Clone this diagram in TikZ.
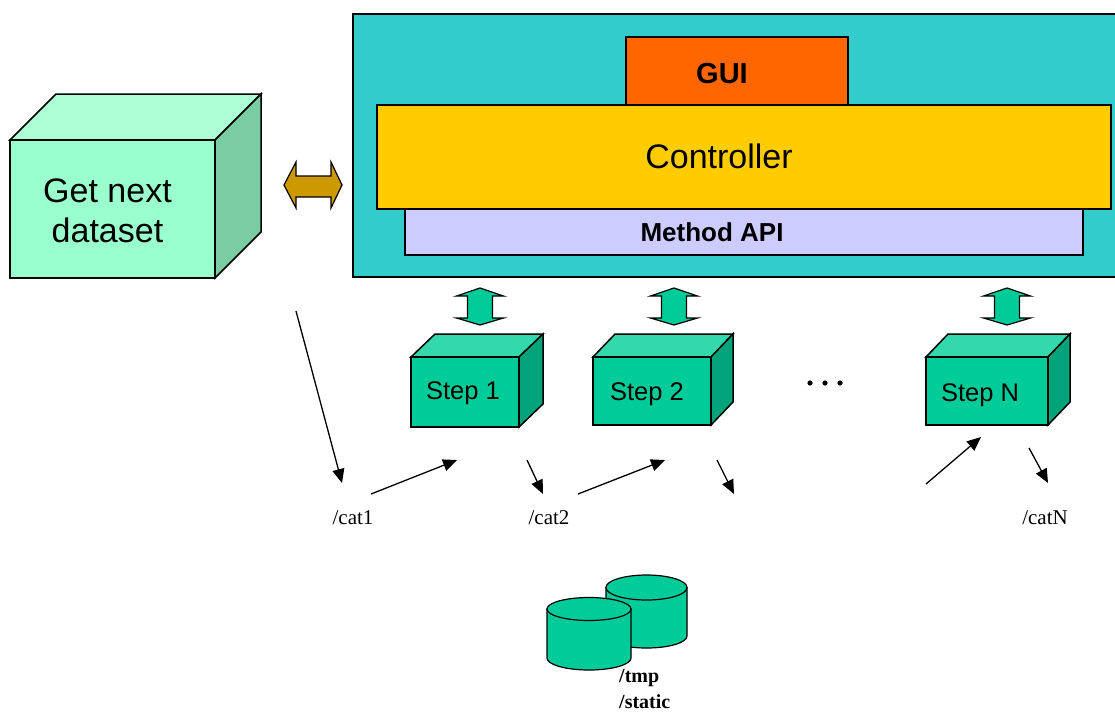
\documentclass[tikz,border=0pt]{standalone}
\usepackage{fontspec}
\setmainfont{Liberation Serif}
\newfontfamily\arialf{Liberation Sans}
\usetikzlibrary{arrows.meta}
\definecolor{tealbg}{HTML}{33CCCC}
\definecolor{guiorange}{HTML}{FF6600}
\definecolor{ctrlyellow}{HTML}{FFCC00}
\definecolor{apilav}{HTML}{CCCCFF}
\definecolor{gold}{HTML}{CC9900}
\definecolor{mintfront}{HTML}{99FFCC}
\definecolor{minttop}{HTML}{ADFFD6}
\definecolor{mintside}{HTML}{7ACCA3}
\definecolor{stepfront}{HTML}{00CC99}
\definecolor{steptop}{HTML}{33D9AD}
\definecolor{stepside}{HTML}{00A37A}
\newcommand\boxcube[9]{%
  \filldraw[face, fill=#8] (#1,#2) -- (#1+#5,#2-#6) -- (#3+#5,#2-#6) -- (#3,#2) -- cycle;
  \filldraw[face, fill=#9] (#3,#2) -- (#3+#5,#2-#6) -- (#3+#5,#4-#6) -- (#3,#4) -- cycle;
  \filldraw[face, fill=#7] (#1,#2) rectangle (#3,#4);
}
\newcommand\vdblarrow[1]{%
  \filldraw[face, line width=1.2pt, fill=stepfront]
    (#1,288) -- (#1+23.5,296) -- (#1+12.5,296) -- (#1+12.5,318) -- (#1+23.5,318)
    -- (#1,325) -- (#1-23.5,318) -- (#1-12.5,318) -- (#1-12.5,296) -- (#1-23.5,296) -- cycle;
}
\begin{document}
\begin{tikzpicture}[x=1pt,y=-1pt,
  box/.style={draw=black, line width=1.5pt, anchor=north west, inner sep=0pt},
  face/.style={draw=black, line width=1.5pt, line join=miter},
  flow/.style={line width=1.3pt, -{Triangle[length=14pt,width=12pt]}},
  bigtxt/.style={font=\arialf\fontsize{34pt}{40pt}\selectfont, align=center, inner sep=0pt},
  boldtxt/.style={font=\arialf\bfseries\fontsize{#1}{#1}\selectfont, inner sep=0pt},
  steptxt/.style={font=\arialf\fontsize{25.5pt}{30pt}\selectfont, inner sep=0pt},
  cattxt/.style={font=\fontsize{21pt}{24pt}\selectfont, inner sep=0pt},
  dirtxt/.style={font=\bfseries\fontsize{20pt}{24pt}\selectfont, inner sep=0pt, anchor=west},
  cyl/.style={draw=black, line width=1.2pt, fill=stepfront}]
\useasboundingbox (0,0) rectangle (1115,713);

% system block
\node[box, fill=tealbg, minimum width=768pt, minimum height=263pt] (sys) at (352,13) {};
\node[box, fill=guiorange, minimum width=222pt, minimum height=68pt] (gui) at (625,36) {};
\node[box, fill=apilav, minimum width=678pt, minimum height=46pt] (api) at (404,208) {};
\node[box, fill=ctrlyellow, minimum width=734pt, minimum height=104pt] (ctrl) at (376,104) {};
\node[boldtxt=29pt] (guit) at (722,74) {GUI};
\node[font=\arialf\fontsize{34pt}{40pt}\selectfont, inner sep=0pt] (ctrlt) at (719,156) {Controller};
\node[boldtxt=26pt] (apit) at (712,232) {Method API};

% dataset cube
\boxcube{10}{140}{215}{278}{46}{46}{mintfront}{minttop}{mintside}
\node[bigtxt] (data) at (107.5,211) {Get next\\dataset};

% gold double arrow
\filldraw[face, line width=1.2pt, fill=gold]
  (284,185) -- (296,162) -- (296,176) -- (331,176) -- (331,162) -- (342,185)
  -- (331,208) -- (331,197) -- (296,197) -- (296,208) -- cycle;

% step arrows
\vdblarrow{480}
\vdblarrow{674}
\vdblarrow{1007}

% step cubes
\boxcube{411}{357}{519}{427}{24}{23}{stepfront}{steptop}{stepside}
\boxcube{593}{357}{711}{425}{22}{23}{stepfront}{steptop}{stepside}
\boxcube{926}{357}{1048}{425}{22}{23}{stepfront}{steptop}{stepside}
\node[steptxt] (s1) at (463,393) {Step 1};
\node[steptxt] (s2) at (647,394) {Step 2};
\node[steptxt] (sn) at (980,395) {Step N};

% dots
\fill (810,383) circle (2.6);
\fill (825,383) circle (2.6);
\fill (840,383) circle (2.6);

% data flow arrows
\coordinate (a0) at (296,311); \coordinate (a1) at (342,483);
\coordinate (b0) at (371,494); \coordinate (b1) at (457,460);
\coordinate (c0) at (527,460); \coordinate (c1) at (543,494);
\coordinate (d0) at (578,494); \coordinate (d1) at (665,460);
\coordinate (e0) at (717,460); \coordinate (e1) at (734,494);
\coordinate (f0) at (926,484); \coordinate (f1) at (981,437);
\coordinate (g0) at (1029,448); \coordinate (g1) at (1048,483);
\draw[flow] (a0) -- (a1);
\draw[flow] (b0) -- (b1);
\draw[flow] (c0) -- (c1);
\draw[flow] (d0) -- (d1);
\draw[flow] (e0) -- (e1);
\draw[flow] (f0) -- (f1);
\draw[flow] (g0) -- (g1);

\node[cattxt] (cat1) at (353,518) {/cat1};
\node[cattxt] (cat2) at (549,518) {/cat2};
\node[cattxt] (catn) at (1045,518) {/catN};

% storage cylinders
\filldraw[cyl] (606,587.5) -- (606,636) arc[start angle=180, end angle=0, x radius=40.5, y radius=12] -- (687,587.5) -- cycle;
\filldraw[cyl] (646.5,587.5) ellipse [x radius=40.5, y radius=12.5];
\filldraw[cyl] (547,609) -- (547,658) arc[start angle=180, end angle=0, x radius=42, y radius=12] -- (631,609) -- cycle;
\filldraw[cyl] (589,609) ellipse [x radius=42, y radius=11.5];
\node[dirtxt] (tmp) at (619,678) {/tmp};
\node[dirtxt] (static) at (619,702) {/static};
\end{tikzpicture}
\end{document}
